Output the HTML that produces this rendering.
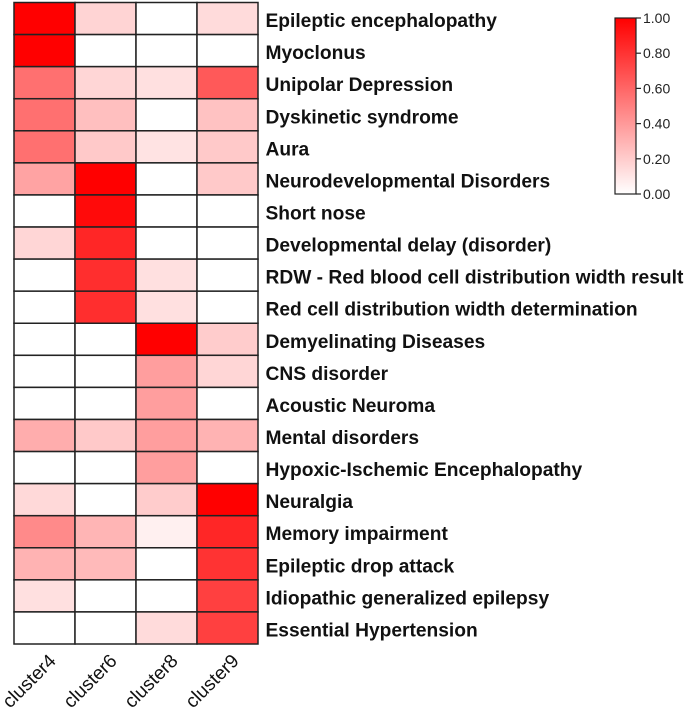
<!DOCTYPE html>
<html>
<head>
<meta charset="utf-8">
<style>
html,body{margin:0;padding:0;background:#fff;width:685px;height:711px;overflow:hidden}
svg{display:block}
text{font-family:"Liberation Sans",sans-serif}
</style>
</head>
<body>
<svg id="chart" width="685" height="711" viewBox="0 0 685 711" xmlns="http://www.w3.org/2000/svg">
<defs>
<linearGradient id="cbar" x1="0" y1="1" x2="0" y2="0">
<stop offset="0" stop-color="#ffffff"/>
<stop offset="1" stop-color="#ff0000"/>
</linearGradient>
</defs>
</svg>
<script>
const clusters = ['cluster4','cluster6','cluster8','cluster9'];
const diseases = [
'Epileptic encephalopathy','Myoclonus','Unipolar Depression','Dyskinetic syndrome','Aura',
'Neurodevelopmental Disorders','Short nose','Developmental delay (disorder)',
'RDW - Red blood cell distribution width result','Red cell distribution width determination',
'Demyelinating Diseases','CNS disorder','Acoustic Neuroma','Mental disorders',
'Hypoxic-Ischemic Encephalopathy','Neuralgia','Memory impairment','Epileptic drop attack',
'Idiopathic generalized epilepsy','Essential Hypertension'];
const cluster4Values = [1,1,.56,.56,.56,.36,0,.16,0,0,0,0,0,.32,0,.15,.46,.3,.12,0];
const cluster6Values = [.17,0,.16,.25,.21,1,.96,.85,.82,.82,0,0,0,.21,0,0,.29,.27,0,0];
const cluster8Values = [0,0,.12,0,.11,0,0,0,.12,.12,1,.38,.38,.38,.38,.2,.06,0,0,.14];
const cluster9Values = [.14,0,.65,.24,.21,.21,0,0,0,0,.2,.16,0,.3,0,1,.85,.8,.75,.75];
const colorbarTicks = [0,.2,.4,.6,.8,1];

const seriesValues = [cluster4Values,cluster6Values,cluster8Values,cluster9Values];
const svg = document.getElementById('chart');
const NS = 'http://www.w3.org/2000/svg';
function make(tag, attrs, parent){
  const el = document.createElementNS(NS, tag);
  for (const k in attrs) el.setAttribute(k, attrs[k]);
  (parent || svg).appendChild(el);
  return el;
}
const gridLeft = 14, gridRight = 258, gridTop = 2.5, gridBottom = 644;
const xScale = i => gridLeft + i * (gridRight - gridLeft) / clusters.length;
const yScale = i => gridTop + i * (gridBottom - gridTop) / diseases.length;
function colorFor(v){
  const c = Math.round(255 * (1 - v));
  return 'rgb(255,' + c + ',' + c + ')';
}
const barTop = 18, barBottom = 194, barLeft = 615, barRight = 636;
const barScale = v => barBottom - v * (barBottom - barTop);

seriesValues.forEach((vals, c) => {
  vals.forEach((v, r) => {
    const cell = make('rect', {x:xScale(c), y:yScale(r), width:xScale(c+1)-xScale(c), height:yScale(r+1)-yScale(r), fill:colorFor(v), stroke:'#222', 'stroke-width':1.5});
    
    
  });
});

diseases.forEach((d, r) => {
  const label = make('text', {x:265.5, y:yScale(r)+ (yScale(1)-yScale(0))/2 + 8.5, 'font-size':19.2, 'font-weight':'bold', fill:'#111'});
  label.textContent = d;
  
  
});

clusters.forEach((c, i) => {
  const px = xScale(i) + 43, py = 662;
  const label = make('text', {x:px, y:py, 'font-size':19, fill:'#111', 'text-anchor':'end', transform:'rotate(-45 ' + px + ' ' + py + ')'});
  label.textContent = c;
  
  
});

const bar = make('rect', {x:barLeft, y:barTop, width:barRight-barLeft, height:barBottom-barTop, fill:'url(#cbar)', stroke:'#222', 'stroke-width':1.2});



colorbarTicks.forEach(t => {
  const y = barScale(t);
  const tick = make('line', {x1:barRight, x2:barRight+5, y1:y, y2:y, stroke:'#222', 'stroke-width':1.2});
  
  
  const label = make('text', {x:643, y:y+5, 'font-size':14, fill:'#222'});
  label.textContent = t.toFixed(2);
  
  
});
</script>
</body>
</html>
